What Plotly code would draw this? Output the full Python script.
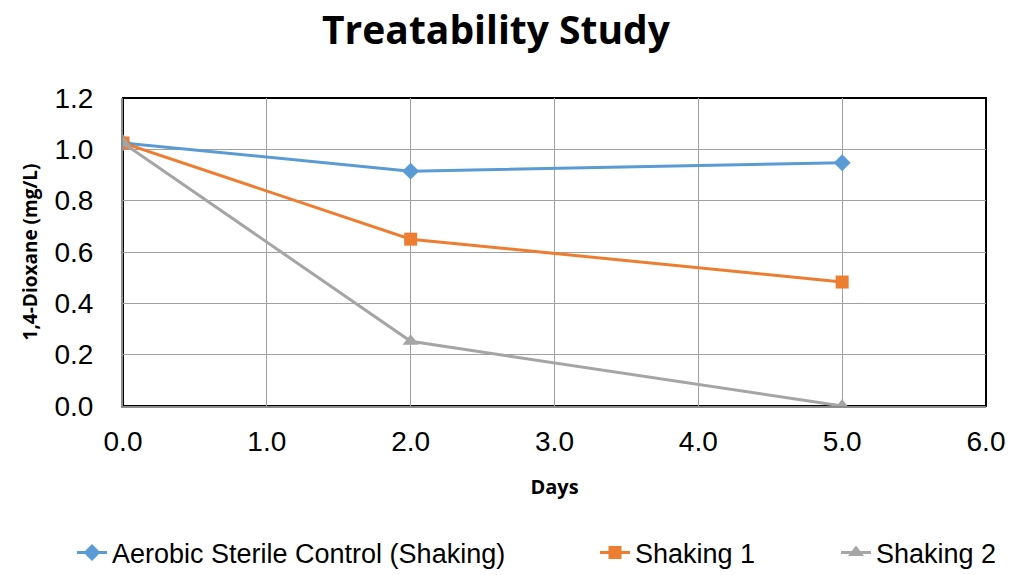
import plotly.graph_objects as go

days = [0, 2, 5]
aerobic = [1.025, 0.915, 0.948]
shaking1 = [1.025, 0.65, 0.483]
shaking2 = [1.025, 0.252, 0.0]
series_names = ["Aerobic Sterile Control (Shaking)", "Shaking 1", "Shaking 2"]

fig = go.Figure()
fig.add_trace(go.Scatter(x=days, y=aerobic, name=series_names[0], mode="lines+markers",
                         line=dict(color="#5B9BD5", width=3), legend="legend",
                         marker=dict(symbol="diamond", size=13, color="#5B9BD5")))
fig.add_trace(go.Scatter(x=days, y=shaking1, name=series_names[1], mode="lines+markers",
                         line=dict(color="#ED7D31", width=3), legend="legend2",
                         marker=dict(symbol="square", size=13, color="#ED7D31")))
fig.add_trace(go.Scatter(x=days, y=shaking2, name=series_names[2], mode="lines+markers",
                         line=dict(color="#A5A5A5", width=3), legend="legend3",
                         marker=dict(symbol="triangle-up", size=14, color="#A5A5A5")))

W, H = 1010, 575
leg_font = dict(family="Liberation Sans", size=27, color="black")
def leg(px):
    return dict(orientation="h", xref="container", yref="container", x=px / W, xanchor="left",
                y=1 - 553 / H, yanchor="middle", font=leg_font, bgcolor="rgba(0,0,0,0)")

fig.update_layout(
    width=W, height=H,
    margin=dict(l=123, r=24, t=98, b=169, autoexpand=False),
    paper_bgcolor="white", plot_bgcolor="white",
    title=dict(text="<b>Treatability Study</b>", x=496 / W, xref="container", xanchor="center",
               y=1 - 30 / H, yanchor="middle",
               font=dict(family="Open Sans", size=39, color="black")),
    showlegend=True,
    legend=leg(72), legend2=leg(595), legend3=leg(836),
    shapes=[dict(type="rect", xref="paper", yref="paper", x0=0, y0=0, x1=1, y1=1,
                 line=dict(color="black", width=2), layer="below")],
)
fig.update_xaxes(range=[0, 6], dtick=1, tickformat=".1f", showgrid=True, gridcolor="#a0a0a0", gridwidth=1.3,
                 showline=True, linecolor="#8c8c8c", linewidth=2, zeroline=False, automargin=False,
                 ticks="", ticklabelstandoff=9,
                 tickfont=dict(family="Liberation Sans", size=28, color="black"),
                 title=dict(text="<b>Days</b>", font=dict(family="Open Sans", size=20, color="black"), standoff=24))
fig.update_yaxes(range=[0, 1.2], dtick=0.2, tickformat=".1f", showgrid=True, gridcolor="#a0a0a0", gridwidth=1.3,
                 showline=True, linecolor="#8c8c8c", linewidth=2, zeroline=False, automargin=False,
                 ticks="", ticklabelstandoff=22,
                 tickfont=dict(family="Liberation Sans", size=28, color="black"),
                 title=dict(text="<b>1,4-Dioxane (mg/L)</b>", font=dict(family="Open Sans", size=19, color="black"), standoff=12))

fig.write_html("out.html")
